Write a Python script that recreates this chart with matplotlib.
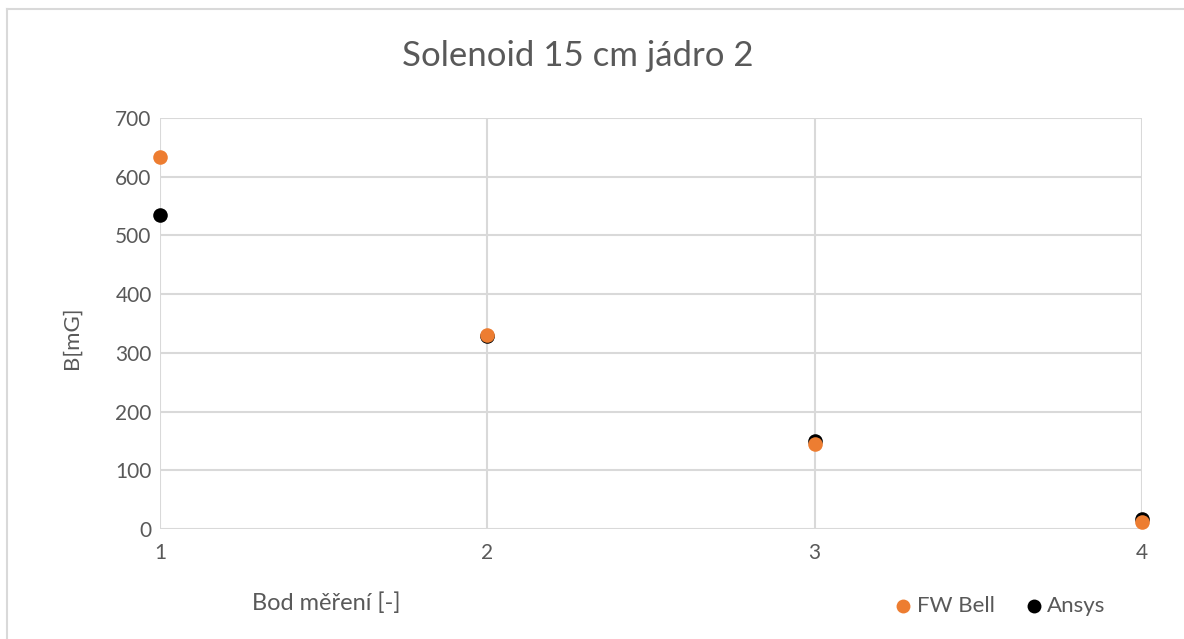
import matplotlib
matplotlib.use("Agg")
import matplotlib.pyplot as plt
from matplotlib.lines import Line2D

plt.rcParams['font.family'] = ['Lato', 'DejaVu Sans']

# Measurement points and field values [mG]
points = [1, 2, 3, 4]
fw_bell = [634, 331, 145, 12]
ansys = [534, 328, 150, 17]
x_ticks = [1, 2, 3, 4]
y_ticks = [0, 100, 200, 300, 400, 500, 600, 700]

series_names = ["FW Bell", "Ansys"]
title = "Solenoid 15 cm jádro 2"
x_label = "Bod měření [-]"
y_label = "B[mG]"

text_color = "#595959"
grid_color = "#d9d9d9"
orange = "#ED7D31"

W, H = 1184, 639
fig = plt.figure(figsize=(W / 100, H / 100), dpi=100)
ax = fig.add_axes([160 / W, 1 - 529 / H, (1142 - 160) / W, (529 - 118) / H])

ax.scatter(points, ansys, s=110, color="black", zorder=3, clip_on=False, linewidths=0)
ax.scatter(points, fw_bell, s=110, color=orange, zorder=4, clip_on=False, linewidths=0)

ax.set_xlim(1, 4)
ax.set_ylim(0, 700)
ax.set_xticks(x_ticks)
ax.set_yticks(y_ticks)
ax.grid(True, color=grid_color, linewidth=1.5)
ax.set_axisbelow(True)
for sp in ax.spines.values():
    sp.set_visible(False)
ax.tick_params(length=0, labelsize=15, labelcolor=text_color, pad=10)
ax.tick_params(axis='y', pad=6)

fig.text(578 / W, 1 - 56 / H, title, ha="center", va="center",
         fontsize=25, color=text_color)
fig.text(326 / W, 1 - 603 / H, x_label, ha="center", va="center",
         fontsize=17, color=text_color)
fig.text(72 / W, 1 - 338 / H, y_label, ha="center", va="center",
         fontsize=16, color=text_color, rotation=90)

# Legend: marker + label pairs along the bottom right
legend_y = 1 - 606 / H
for name, color, mx, tx in [(series_names[0], orange, 903, 917),
                            (series_names[1], "black", 1034, 1047)]:
    fig.add_artist(Line2D([mx / W], [legend_y], marker="o", markersize=10,
                          color=color, markeredgewidth=0, linestyle="",
                          transform=fig.transFigure))
    fig.text(tx / W, legend_y, name, ha="left", va="center",
             fontsize=16, color=text_color)

# Chart frame
fig.add_artist(Line2D([6.5 / W, 6.5 / W], [0, 1 - 8.5 / H],
                      transform=fig.transFigure, color=grid_color, linewidth=1.5))
fig.add_artist(Line2D([6.5 / W, 1], [1 - 8.5 / H, 1 - 8.5 / H],
                      transform=fig.transFigure, color=grid_color, linewidth=1.5))

fig.savefig("out.png", dpi=100, facecolor="white")
